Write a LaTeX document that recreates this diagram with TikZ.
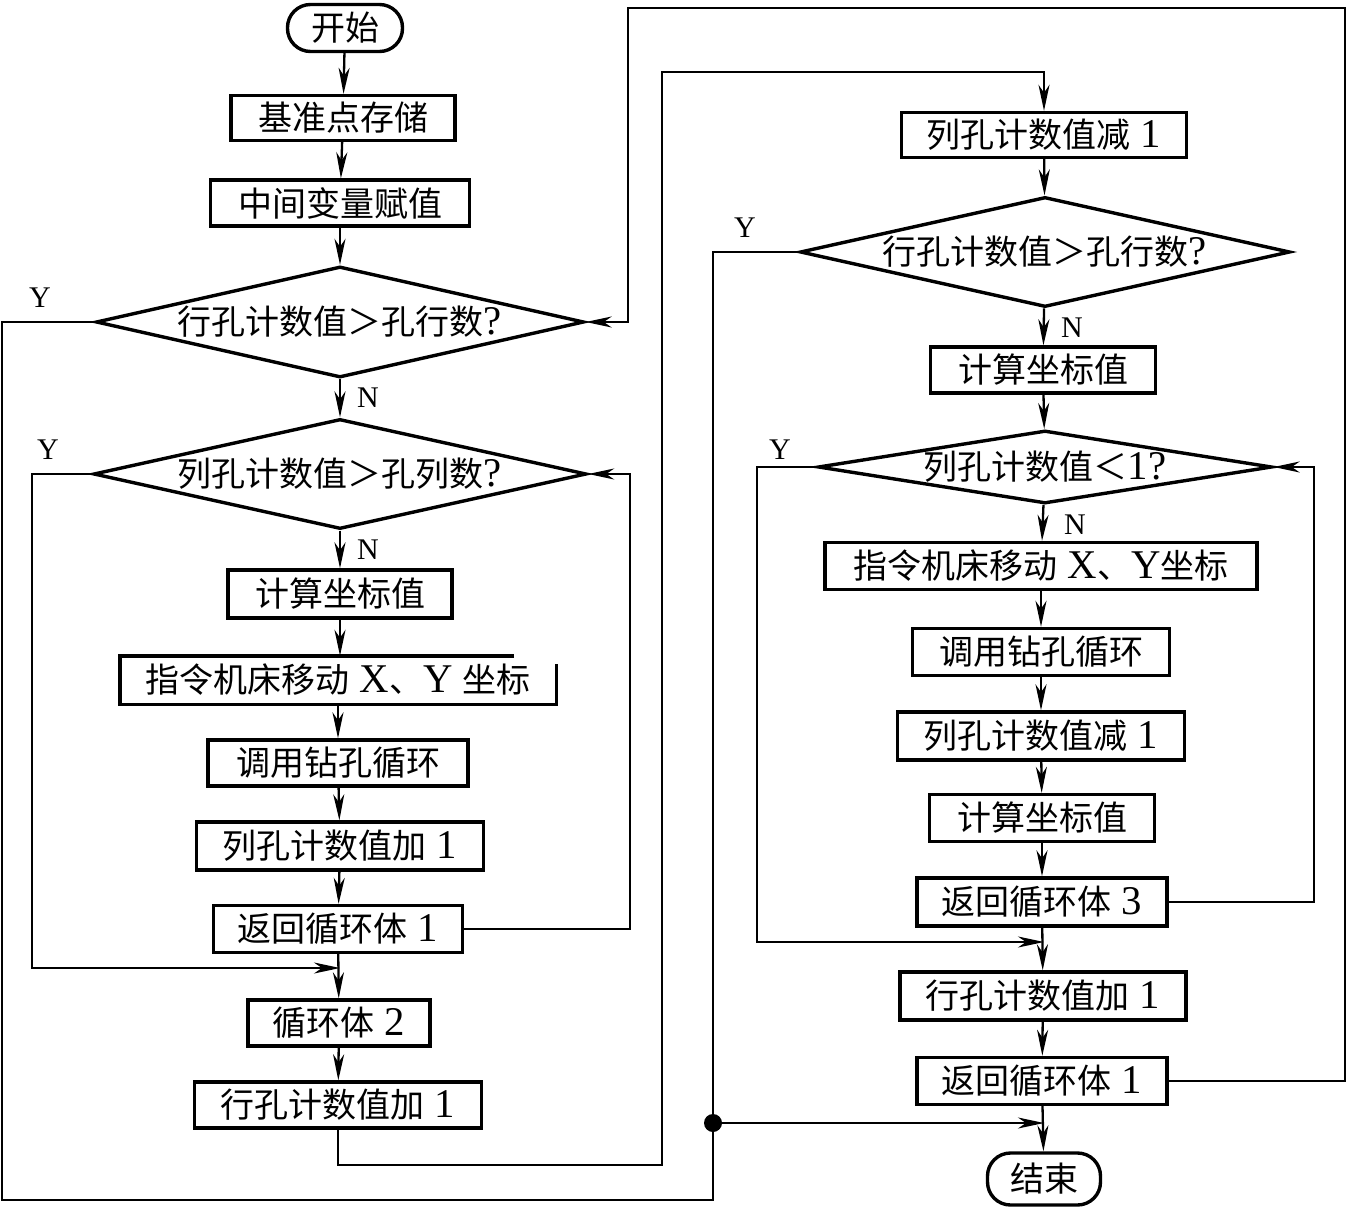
\documentclass[tikz,border=0pt]{standalone}
\usepackage{fontspec}
\setmainfont[Scale=1.2]{Liberation Serif}
\newfontfamily\cjk{Noto Sans CJK SC}
\usetikzlibrary{arrows.meta,shapes.geometric}
\newcommand{\zh}[1]{{\cjk #1}}
\tikzset{
  boxline/.style={line width=3.4pt},
  stepbox/.style={draw, boxline, rectangle, inner sep=0pt, font=\fontsize{34pt}{38pt}\selectfont},
  term/.style={stepbox, rounded corners=23pt},
  dia/.style={draw, boxline, diamond, inner sep=0pt, label={[font=\fontsize{34pt}{38pt}\selectfont]center:#1}},
  conn/.style={line width=2.3pt},
  arr/.style={conn, -{Stealth[length=26pt,width=11pt,inset=8pt]}},
  yn/.style={font=\fontsize{25pt}{28pt}\selectfont, inner sep=0pt}
}
\begin{document}
\begin{tikzpicture}[x=1pt,y=-1pt]
\useasboundingbox (0,0) rectangle (1349,1209);
% left column
\node[term, minimum width=115pt, minimum height=47pt] (start) at (345,28) {\zh{开始}};
\node[stepbox, minimum width=224pt, minimum height=45pt] (b1) at (343,118) {\zh{基准点存储}};
\node[stepbox, minimum width=259pt, minimum height=46pt] (b2) at (340,203) {\zh{中间变量赋值}};
\node[dia={\zh{行孔计数值＞孔行数}?}, minimum width=488pt, minimum height=111pt] (d1) at (340,322) {};
\node[dia={\zh{列孔计数值＞孔列数}?}, minimum width=493pt, minimum height=110pt] (d2) at (340,474) {};
\node[stepbox, minimum width=224pt, minimum height=48pt] (l1) at (340,594) {\zh{计算坐标值}};
\node[stepbox, draw=none, minimum width=433pt, minimum height=45pt] (l2) at (338,680) {\zh{指令机床移动} X\zh{、}Y \zh{坐标}};
\draw[boxline] ([xshift=-42pt]l2.north east) -- (l2.north west) -- (l2.south west) -- (l2.south east) -- ([yshift=-8pt]l2.north east);
\node[stepbox, minimum width=260pt, minimum height=46pt] (l3) at (338,763) {\zh{调用钻孔循环}};
\node[stepbox, minimum width=287pt, minimum height=48pt] (l4) at (340,846) {\zh{列孔计数值加} 1};
\node[stepbox, minimum width=249pt, minimum height=47pt] (l5) at (338,929) {\zh{返回循环体} 1};
\node[stepbox, minimum width=182pt, minimum height=46pt] (l6) at (339,1023) {\zh{循环体} 2};
\node[stepbox, minimum width=287pt, minimum height=46pt] (l7) at (338,1105) {\zh{行孔计数值加} 1};
% right column
\node[stepbox, minimum width=285pt, minimum height=45pt] (r1) at (1044,135) {\zh{列孔计数值减} 1};
\node[dia={\zh{行孔计数值＞孔行数}?}, minimum width=490pt, minimum height=110pt] (d3) at (1045,252) {};
\node[stepbox, minimum width=225pt, minimum height=46pt] (r2) at (1043,370) {\zh{计算坐标值}};
\node[dia={\zh{列孔计数值＜}1?}, minimum width=454pt, minimum height=73pt] (d4) at (1045,467) {};
\node[stepbox, minimum width=432pt, minimum height=47pt] (r3) at (1041,566) {\zh{指令机床移动} X\zh{、}Y\zh{坐标}};
\node[stepbox, minimum width=257pt, minimum height=47pt] (r4) at (1041,652) {\zh{调用钻孔循环}};
\node[stepbox, minimum width=287pt, minimum height=48pt] (r5) at (1041,736) {\zh{列孔计数值减} 1};
\node[stepbox, minimum width=225pt, minimum height=47pt] (r6) at (1042,818) {\zh{计算坐标值}};
\node[stepbox, minimum width=250pt, minimum height=48pt] (r7) at (1042,902) {\zh{返回循环体} 3};
\node[stepbox, minimum width=286pt, minimum height=48pt] (r8) at (1043,996) {\zh{行孔计数值加} 1};
\node[stepbox, minimum width=250pt, minimum height=47pt] (r9) at (1042,1081) {\zh{返回循环体} 1};
\node[term, minimum width=113pt, minimum height=52pt] (end) at (1044,1179) {\zh{结束}};
% labels
\node[yn] (y1) at (40,298) {Y};
\node[yn] (y2) at (48,450) {Y};
\node[yn] (y3) at (745,228) {Y};
\node[yn] (y4) at (780,450) {Y};
\node[yn] (n1) at (368,398) {N};
\node[yn] (n2) at (368,550) {N};
\node[yn] (n3) at (1072,328) {N};
\node[yn] (n4) at (1075,525) {N};
% coordinates
\coordinate (j1) at (340,968);
\coordinate (j2) at (1044,942);
\coordinate (j3) at (1044,1123);
\coordinate (dot) at (713,1123);
\coordinate (c1) at (662,1165);
\coordinate (c2) at (662,72);
\coordinate (c3) at (1345,8);
\coordinate (c4) at (628,322);
\coordinate (c5) at (2,322);
\coordinate (c6) at (713,1200);
\coordinate (c7) at (32,474);
\coordinate (c8) at (630,474);
\coordinate (c9) at (757,467);
\coordinate (c10) at (1314,467);
% left connectors
\draw[arr] (start) -- (b1);
\draw[arr] (b1) -- (b2);
\draw[arr] (b2) -- (d1);
\draw[arr] (d1) -- (d2);
\draw[arr] (d2) -- (l1);
\draw[arr] (l1) -- (l1 |- l2.north);
\draw[arr] (l2) -- (l3);
\draw[arr] (l3) -- (l4);
\draw[arr] (l4) -- (l5);
\draw[arr] (l5) -- (l6);
\draw[arr] (l6) -- (l7);
\draw[arr] (d2.west) -- (c7) |- (j1);
\draw[arr] (l5.east) -| (c8) -- (d2.east);
\draw[conn] (d1.west) -- (c5) |- (c6) -- (dot);
\draw[arr] (l7.south) |- (c1) -- (c2) -| (r1.north);
% right connectors
\draw[arr] (r1) -- (d3);
\draw[arr] (d3) -- (r2);
\draw[arr] (r2) -- (d4);
\draw[arr] (d4) -- (r3);
\draw[arr] (r3) -- (r4);
\draw[arr] (r4) -- (r5);
\draw[arr] (r5) -- (r6);
\draw[arr] (r6) -- (r7);
\draw[arr] (r7) -- (r8);
\draw[arr] (r8) -- (r9);
\draw[arr] (r9) -- (end);
\draw[arr] (d4.west) -| (c9) |- (j2);
\draw[arr] (r7.east) -| (c10) -- (d4.east);
\draw[arr] (r9.east) -| (c3) -| (c4) -- (d1.east);
\draw[conn] (d3.west) -| (dot);
\draw[arr] (dot) -- (j3);
\fill (dot) circle (9pt);
\end{tikzpicture}
\end{document}
